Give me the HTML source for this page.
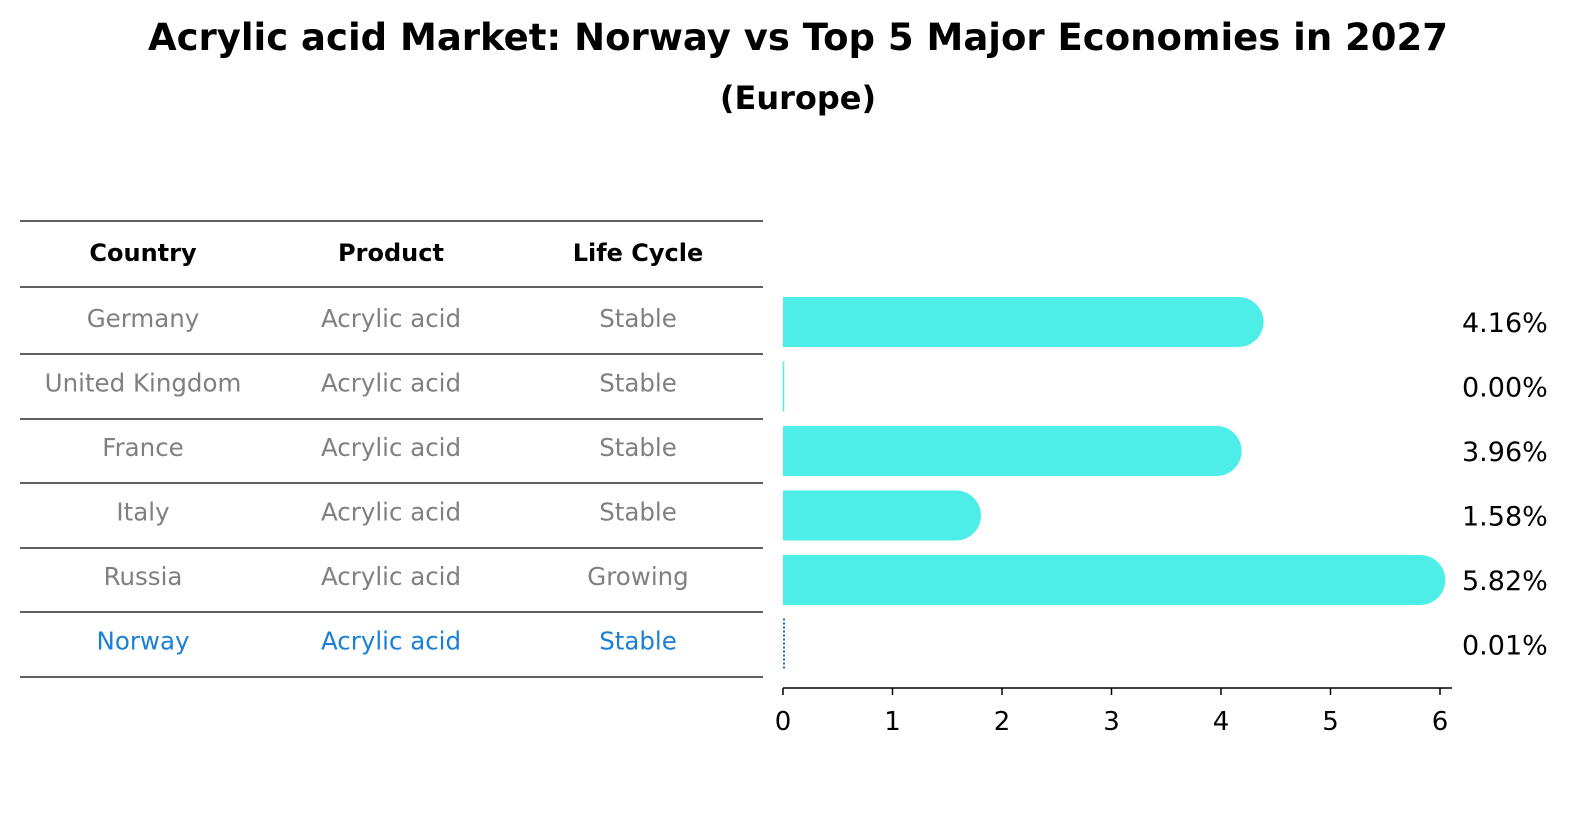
<!DOCTYPE html>
<html><head><meta charset="utf-8"><style>
body{margin:0;background:#fff;width:1586px;height:823px;overflow:hidden;font-family:"DejaVu Sans","Liberation Sans",sans-serif}
svg{display:block}
</style></head><body>
<svg id="chart" width="1586" height="823" xmlns="http://www.w3.org/2000/svg">
<text x="798" y="50" text-anchor="middle" font-size="37" font-weight="bold">Acrylic acid Market: Norway vs Top 5 Major Economies in 2027</text>
<text x="798" y="109" text-anchor="middle" font-size="32" font-weight="bold">(Europe)</text>
<g id="table"></g>
<g id="bars"></g>
</svg>
<script>
const countries=["Germany","United Kingdom","France","Italy","Russia","Norway"];
const products=["Acrylic acid","Acrylic acid","Acrylic acid","Acrylic acid","Acrylic acid","Acrylic acid"];
const lifeCycles=["Stable","Stable","Stable","Stable","Growing","Stable"];
const values=[4.16,0.00,3.96,1.58,5.82,0.01];
const ticks=[0,1,2,3,4,5,6];
const NS="http://www.w3.org/2000/svg";
const tbl=document.getElementById('table');
const bars=document.getElementById('bars');
function mk(tag,attrs,parent){const e=document.createElementNS(NS,tag);for(const k in attrs)e.setAttribute(k,attrs[k]);parent.appendChild(e);return e;}
const x=v=>783+v*109.5;
const rowY=i=>322+i*64.5;
const lineYs=[221,287];
for(let i=0;i<countries.length;i++)lineYs.push(Math.round(rowY(i)+32));
lineYs.forEach(y=>{const l=mk('line',{x1:20,x2:763,y1:y,y2:y,stroke:'#000','stroke-width':1.2},tbl);

});
const cols=[143,391,638];
["Country","Product","Life Cycle"].forEach((h,j)=>{const t=mk('text',{x:cols[j],y:261,'text-anchor':'middle','font-size':24,'font-weight':'bold'},tbl);t.textContent=h;

});
countries.forEach((c,i)=>{const isN=c==="Norway";const col=isN?'#1a7fd6':'#808080';
[c,products[i],lifeCycles[i]].forEach((v,j)=>{const t=mk('text',{x:cols[j],y:rowY(i)+5,'text-anchor':'middle','font-size':24.5,fill:col},tbl);t.textContent=v;

});});
const h=50,r=25;
values.forEach((v,i)=>{const cy=rowY(i);const isN=countries[i]==="Norway";
if(isN){const l=mk('line',{x1:x(0)+1,x2:x(0)+1,y1:cy-26,y2:cy+26,stroke:'#1a6fc0','stroke-width':2,'stroke-dasharray':'2,2'},bars);

}
else if(v<0.05){const l=mk('line',{x1:x(0)+0.5,x2:x(0)+0.5,y1:cy-25,y2:cy+25,stroke:'#4eeee8','stroke-width':1.5},bars);

}
else{const xe=x(v);const d=`M${x(0)},${cy-h/2} H${xe} A${r},${r} 0 0 1 ${xe},${cy+h/2} H${x(0)} Z`;
const p=mk('path',{d:d,fill:'#4eeee8'},bars);

}
const t=mk('text',{x:1462,y:cy+10,'font-size':27},bars);t.textContent=v.toFixed(2)+'%';

});
const ax=mk('line',{x1:x(0),x2:1452,y1:688,y2:688,stroke:'#000','stroke-width':1.5},bars);


ticks.forEach(tv=>{const l=mk('line',{x1:x(tv),x2:x(tv),y1:688,y2:695,stroke:'#000','stroke-width':1.5},bars);


const t=mk('text',{x:x(tv),y:730,'text-anchor':'middle','font-size':26},bars);t.textContent=tv;

});
</script>
</body></html>
